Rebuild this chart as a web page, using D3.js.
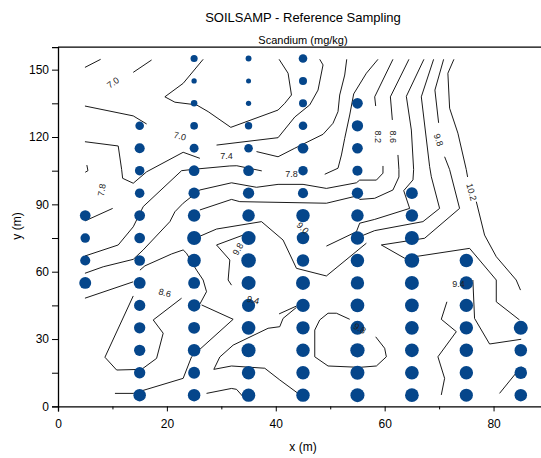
<!DOCTYPE html>
<html>
<head>
<meta charset="utf-8">
<script src="https://cdn.jsdelivr.net/npm/d3@7/dist/d3.min.js"></script>
<style>
  body { margin: 0; background: #fff; }
  svg { display: block; font-family: "Liberation Sans", Arial, sans-serif; }
</style>
</head>
<body>
<svg id="chart" width="541" height="458"></svg>
<script>
// sample grid (m)
var sampleX = [5, 15, 25, 35, 45, 55, 65, 75, 85];
var sampleY = d3.range(5, 160, 10);   // 5 .. 155

// scandium (mg/kg) per column, from y=5 upward; null = not sampled
var scandium = [
  [null, null, null, null, null, 9.3, 8.7, 8.5, 8.9],
  [9.5, 9.1, 9.1, 9.1, 9.1, 9.3, 8.9, 8.9, 8.9, 8.5, 8.5, 8.7, 8.2],
  [9.5, 9.3, 9.5, 9.3, 9.5, 9.3, 9.8, 10.0, 9.5, 9.1, 8.9, 8.3, 7.9, 7.5, 7.1, 7.7],
  [9.8, 9.8, 10.0, 9.9, 9.7, 10.0, 10.2, 10.0, 9.5, 9.1, 8.9, 8.2, 7.8, 7.1, 7.0, 7.3],
  [9.8, 9.8, 9.8, 9.8, 9.8, 10.0, 9.5, 9.5, 9.8, 8.7, 8.5, 8.9, 8.2, 8.0, 8.0, 8.2],
  [10.0, 10.0, 10.1, 10.0, 9.9, 9.8, 9.8, 9.8, 9.5, 9.1, 8.7, 8.9, 9.1, 8.9],
  [9.9, 9.9, 9.9, 9.9, 9.9, 10.0, 10.2, 10.0, 9.5, 9.3],
  [9.7, 9.8, 9.8, 9.8, 9.8, 9.8, 9.8],
  [9.5, 9.5, 9.5, 10.0]
];

// contour pieces, [x, y] in metres
var contourSegs = [
  [[4.95,151.0],[7.83,154.6]],
  [[13.82,148.8],[17.19,154.3]],
  [[26.66,154.6],[22.99,143.9],[19.63,137.9],[21.47,135.5],[25.45,134.3],[27.58,131.3],[31.74,124.3],[40.42,132.0],[41.65,135.0],[42.88,138.7],[42.26,148.4],[40.61,154.6]],
  [[4.95,133.8],[13.82,129.4],[16.28,125.8]],
  [[29.12,116.4],[40.42,119.7],[43.49,128.9],[46.24,134.3],[47.76,140.9],[48.68,152.1],[48.07,154.6]],
  [[4.95,117.9],[11.06,116.0],[11.69,105.5],[11.87,101.6],[13.82,99.4],[16.28,104.5],[22.99,113.2],[26.06,110.5]],
  [[36.46,113.5],[40.42,111.2],[43.49,115.0],[48.68,121.2],[50.51,126.1],[51.43,131.3],[51.74,138.7],[52.66,147.6],[53.03,154.6]],
  [[4.95,67.0],[11.06,71.9],[13.82,80.0],[15.65,89.0],[22.70,105.0],[24.83,105.6],[31.56,107.1],[32.84,107.2],[37.43,104.9]],
  [[48.99,103.4],[51.43,106.1],[52.06,112.0],[52.66,119.4],[53.58,129.8],[54.31,139.2],[56.64,148.4],[58.77,154.6]],
  [[5.3,107.5],[5.5,105.0],[5.0,104.3]],
  [[4.95,82.6],[10.04,88.2]],
  [[61.52,154.6],[58.17,137.9],[58.35,133.8]],
  [[59.69,107.1],[59.69,103.9],[58.48,100.8],[55.41,100.8],[54.81,99.6],[49.30,97.1],[45.01,98.9],[40.42,98.9],[36.46,97.6],[31.87,99.6],[26.06,96.4],[22.99,90.5],[21.47,86.7],[20.55,82.3],[15.65,69.7],[13.82,65.5],[8.31,62.2],[4.95,59.3]],
  [[64.46,154.6],[61.05,137.9],[61.41,127.6]],
  [[62.44,112.0],[62.62,105.5],[62.62,102.2],[61.52,96.4],[58.17,92.7],[55.41,92.2],[54.81,93.7],[49.30,90.5],[33.39,91.2],[31.87,92.2],[26.06,87.5]],
  [[67.21,154.6],[63.98,138.1],[64.90,123.1],[65.32,105.5],[65.2,100.9],[63.5,96.1],[64.59,88.2],[58.17,83.3],[55.41,81.6],[54.81,77.8],[49.30,71.4]],
  [[68.99,154.6],[66.73,137.9],[68.26,106.8],[68.57,102.3],[70.09,88.2],[67.03,82.3],[58.17,78.3],[55.41,75.6]],
  [[70.83,154.6],[69.23,140.9],[69.91,126.3]],
  [[71.01,111.2],[71.93,105.5],[73.76,88.2],[67.34,74.9],[59.39,71.9],[63.67,66.0],[75.60,70.4],[80.50,56.3],[80.50,46.6],[84.77,38.5]],
  [[72.72,154.6],[71.61,148.4],[71.93,132.8],[73.45,121.7],[74.99,105.5],[75.23,102.2]],
  [[76.83,91.2],[78.35,76.3],[80.50,66.7],[84.16,56.3],[84.95,51.8]],
  [[70.40,5.1],[71.01,12.5],[69.78,22.1],[73.16,33.3],[70.40,38.8],[71.43,46.6]],
  [[76.20,56.3],[76.51,39.2],[79.27,27.8],[85.08,29.9]],
  [[85.08,17.7],[81.10,5.8]],
  [[53.58,38.8],[51.14,41.5],[49.60,41.5],[48.07,38.5],[47.16,34.0],[47.16,22.1],[49.60,18.0],[55.41,17.4],[58.48,18.0],[60.31,22.1],[60.0,25.9],[58.35,31.0]],
  [[40.61,41.2],[43.80,44.7]],
  [[43.80,44.1],[41.34,39.2],[40.73,35.5],[38.59,34.8],[32.17,27.3],[29.72,22.0],[28.62,16.5],[31.87,18.0],[37.98,17.0],[40.73,11.8],[44.09,5.8]],
  [[27.28,5.8],[31.87,8.0],[32.79,7.6],[34.0,4.3]],
  [[4.95,48.2],[13.82,55.5]],
  [[13.82,49.2],[8.62,21.9],[10.77,16.2],[15.36,16.5],[18.11,21.4],[19.32,32.6],[17.49,38.5],[22.70,48.2]],
  [[10.46,5.8],[13.82,5.8],[22.99,12.5],[24.53,22.1],[32.17,38.8],[26.37,45.2]],
  [[26.06,45.6],[27.28,51.1],[26.66,56.3],[25.45,60.7],[23.61,68.2],[22.99,69.7],[20.86,67.9],[15.96,62.6],[15.05,60.7]],
  [[26.06,75.8],[29.12,79.0],[37.38,82.3],[41.34,74.1],[43.80,61.5],[49.30,58.1],[56.64,72.7]],
  [[34.0,76.3],[29.12,71.9],[31.56,65.2],[31.25,56.3],[31.87,54.0]]
];

var labelText = ["7.0", "7.0", "7.4", "7.8", "7.8", "8.2", "8.6", "9.8", "10.2", "9.0", "9.8", "8.6", "9.4", "9.8", "9.4"];
var labelX    = [10.09, 22.39, 30.95, 42.88, 8.02, 58.77, 61.52, 69.91, 75.96, 44.95, 33.03, 19.63, 35.83, 55.41, 73.58];
var labelY    = [144.2, 120.4, 111.5, 103.8, 96.4, 120.1, 120.1, 118.7, 95.5, 79.5, 70.1, 50.6, 47.4, 34.8, 54.5];
var labelRot  = [-35, 15, 0, 0, -80, 90, 90, 70, 75, 45, -60, 15, 15, 30, 0];

var svg = d3.select("#chart");

var x = d3.scaleLinear().domain([0, 90]).range([58, 548]);
var y = d3.scaleLinear().domain([0, 160]).range([406.4, 47.2]);
var r = d3.scaleLinear().domain([6, 11]).range([1, 8.5]);

// titles
svg.append("text").attr("x", 303).attr("y", 22).attr("text-anchor", "middle")
  .style("font-size", "13px").text("SOILSAMP - Reference Sampling");
svg.append("text").attr("x", 303).attr("y", 44).attr("text-anchor", "middle")
  .style("font-size", "11px").text("Scandium (mg/kg)");

// frame top
svg.append("line").attr("x1", 58).attr("x2", 548).attr("y1", 47.2).attr("y2", 47.2)
  .attr("stroke", "#000").attr("stroke-width", 1.3);

// contours
var line = d3.line().x(function(d) { return x(d[0]); }).y(function(d) { return y(d[1]); });
svg.append("g").selectAll("path").data(contourSegs).enter().append("path")
  .attr("d", line).attr("fill", "none").attr("stroke", "#000").attr("stroke-width", 0.9);

// samples
var pts = [];
scandium.forEach(function(col, i) {
  col.forEach(function(v, j) {
    if (v != null) pts.push({x: sampleX[i], y: sampleY[j], v: v});
  });
});
svg.append("g").selectAll("circle").data(pts).enter().append("circle")
  .attr("cx", function(d) { return x(d.x); })
  .attr("cy", function(d) { return y(d.y); })
  .attr("r", function(d) { return r(d.v); })
  .attr("fill", "#05468b");

// contour labels
svg.append("g").selectAll("text").data(labelText).enter().append("text")
  .attr("transform", function(d, i) {
    return "translate(" + x(labelX[i]) + "," + y(labelY[i]) + ") rotate(" + labelRot[i] + ")";
  })
  .attr("text-anchor", "middle").attr("dy", "0.35em")
  .style("font-size", "9px").attr("fill", "#222")
  .text(function(d) { return d; });

// axes
var xAxis = svg.append("g").attr("transform", "translate(0,406.4)")
  .call(d3.axisBottom(x).tickValues(d3.range(0, 91, 10)).tickSize(5).tickPadding(8)
    .tickFormat(function(d) { return d % 20 == 0 ? d : ""; }));
xAxis.selectAll(".tick line").attr("y2", function(d) { return d % 20 == 0 ? 5 : 3; });
var yAxis = svg.append("g").attr("transform", "translate(58,0)")
  .call(d3.axisLeft(y).tickValues(d3.range(0, 161, 15)).tickSize(6)
    .tickFormat(function(d) { return d % 30 == 0 ? d : ""; }));
[xAxis, yAxis].forEach(function(a) {
  a.select(".domain").attr("stroke-width", 1.3);
  a.selectAll("text").style("font-size", "12px").style("font-family", "'Liberation Sans', Arial, sans-serif");
});

svg.append("text").attr("x", 303).attr("y", 451).attr("text-anchor", "middle")
  .style("font-size", "12px").text("x (m)");
svg.append("text").attr("transform", "translate(21,226) rotate(-90)").attr("text-anchor", "middle")
  .style("font-size", "12px").text("y (m)");
</script>
</body>
</html>
